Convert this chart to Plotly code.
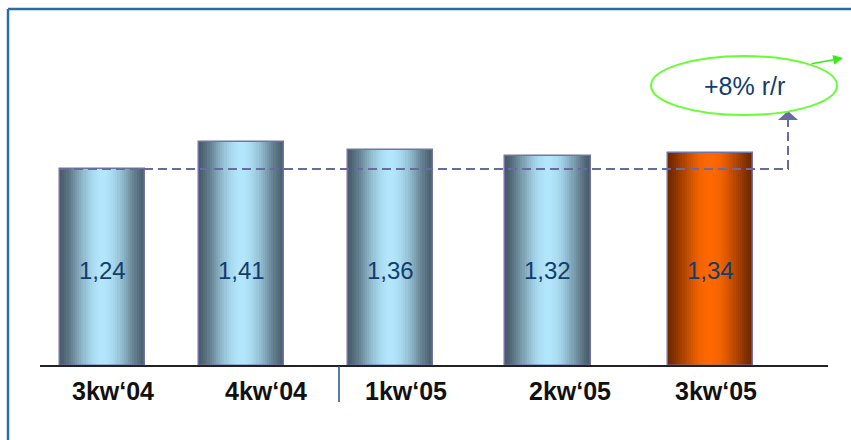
import math
import plotly.graph_objects as go

# Quarterly values
quarters = ["3kw‘04", "4kw‘04", "1kw‘05", "2kw‘05", "3kw‘05"]
values = [1.24, 1.41, 1.36, 1.32, 1.34]
growth_text = "+8% r/r"

# Layout of the bars along the x axis (axis units) and of their labels
bar_pos = [0.0, 0.915, 1.896, 2.933, 4.0]
label_pos = [0.069, 1.076, 2.0, 3.078, 4.039]
bar_w = 0.56
value_label_y = 0.60
quarter_label_y = -0.157

W, H = 851, 440
X_RANGE = [-0.675, 4.928]
Y_RANGE = [-0.466, 2.303]


def px(xp):
    return xp / W


def py(yp):
    return 1 - yp / H


def data_x(xp):
    return X_RANGE[0] + (X_RANGE[1] - X_RANGE[0]) * xp / W


def data_y(yp):
    return Y_RANGE[1] - (Y_RANGE[1] - Y_RANGE[0]) * yp / H


def mix(c1, c2, s):
    return "rgb({},{},{})".format(*[round(a + (b - a) * s) for a, b in zip(c1, c2)])


blue_edge, blue_mid = (72, 92, 106), (178, 230, 252)
orange_edge, orange_mid = (112, 40, 0), (255, 104, 0)
highlight = [False, False, False, False, True]

fig = go.Figure()

# Cylinder-like shading: each bar is built from narrow vertical strips
n_strips = 40
strip_w = bar_w / n_strips
for k in range(n_strips):
    t = (k + 0.5) / n_strips
    s = math.sin(math.pi * t) ** 1.4
    colors = [mix(orange_edge, orange_mid, s) if h else mix(blue_edge, blue_mid, s)
              for h in highlight]
    width = strip_w * 1.4 if k < n_strips - 1 else strip_w
    fig.add_trace(go.Bar(
        x=bar_pos, y=values,
        width=[width] * len(values),
        offset=[-bar_w / 2 + k * strip_w] * len(values),
        marker=dict(color=colors, line=dict(width=0)),
        hoverinfo="skip", showlegend=False,
    ))

# Bar outlines
fig.add_trace(go.Bar(
    x=bar_pos, y=values, width=[bar_w] * len(values),
    marker=dict(color="rgba(0,0,0,0)", line=dict(color="#7272a8", width=1.5)),
    hoverinfo="skip", showlegend=False,
))

# Reference line at the first quarter's level, leading up to the growth bubble
turn_x = data_x(788)
fig.add_trace(go.Scatter(
    x=[bar_pos[0] - bar_w / 2, turn_x, turn_x],
    y=[values[0], values[0], data_y(119)],
    mode="lines",
    line=dict(color="#6a6aa2", width=2, dash="9px,5px"),
    hoverinfo="skip", showlegend=False,
))

shapes = [
    # frame
    dict(type="line", xref="paper", yref="paper", x0=px(8), x1=px(8), y0=py(9), y1=py(440),
         line=dict(color="#2a6ca6", width=2.5)),
    dict(type="line", xref="paper", yref="paper", x0=px(8), x1=px(851), y0=py(9), y1=py(9),
         line=dict(color="#2a6ca6", width=2.5)),
    # baseline
    dict(type="line", xref="paper", yref="y", x0=px(40), x1=px(828), y0=0, y1=0,
         line=dict(color="#222222", width=2)),
    # separator between years
    dict(type="line", xref="paper", yref="paper", x0=px(339), x1=px(339), y0=py(366), y1=py(402),
         line=dict(color="#1f4e8c", width=1.5)),
    # arrowhead of the reference line
    dict(type="path", xref="paper", yref="paper",
         path=f"M {px(778)},{py(120)} L {px(798)},{py(120)} L {px(788)},{py(111)} Z",
         fillcolor="#6a6aa2", line=dict(width=0)),
    # growth bubble
    dict(type="circle", xref="paper", yref="paper", x0=px(651), x1=px(837), y0=py(115), y1=py(56),
         line=dict(color="#66ff33", width=2), fillcolor="rgba(255,255,255,0)"),
]

annotations = []
for xp, v in zip(bar_pos, values):
    annotations.append(dict(
        x=xp, y=value_label_y, xref="x", yref="y", showarrow=False,
        xanchor="center", yanchor="middle",
        text=f"{v:.2f}".replace(".", ","),
        font=dict(family="Arial, Liberation Sans", size=24, color="#123d6e"),
    ))
for xp, q in zip(label_pos, quarters):
    annotations.append(dict(
        x=xp, y=quarter_label_y, xref="x", yref="y", showarrow=False,
        xanchor="center", yanchor="middle",
        text=f"<b>{q}</b>",
        font=dict(family="Arial, Liberation Sans", size=25, color="#111111"),
    ))
annotations.append(dict(
    x=px(744), y=py(86), xref="paper", yref="paper", showarrow=False,
    xanchor="center", yanchor="middle",
    text=growth_text,
    font=dict(family="Arial, Liberation Sans", size=25, color="#123d6e"),
))
# green trend arrow leaving the bubble
annotations.append(dict(
    x=px(843), y=py(58), xref="paper", yref="paper",
    ax=-33, ay=6, axref="pixel", ayref="pixel",
    showarrow=True, arrowhead=2, arrowsize=1.3, arrowwidth=1.5, arrowcolor="#33ee11",
    text="",
))

fig.update_layout(
    width=W, height=H,
    margin=dict(l=0, r=0, t=0, b=0),
    paper_bgcolor="white", plot_bgcolor="white",
    barmode="overlay", bargap=0,
    xaxis=dict(range=X_RANGE, visible=False, fixedrange=True),
    yaxis=dict(range=Y_RANGE, visible=False, fixedrange=True),
    shapes=shapes, annotations=annotations,
    showlegend=False,
)

fig.write_html("out.html")
